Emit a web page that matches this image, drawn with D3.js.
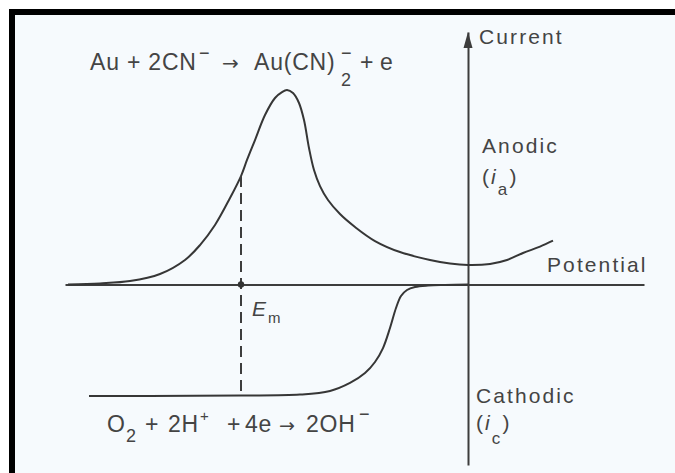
<!DOCTYPE html>
<html>
<head>
<meta charset="utf-8">
<script src="https://cdn.jsdelivr.net/npm/d3@7"></script>
<style>
	html, body { margin: 0; padding: 0; background: #fff; }
	svg text { font-family: "Liberation Sans", Arial, sans-serif; fill: #444; }
	.label { font-size: 21px; letter-spacing: 2.1px; }
	.eq { font-size: 23px; letter-spacing: 0.8px; }
	.arrow { font-family: "DejaVu Sans", sans-serif !important; }
	.axis .domain { stroke: #3d3d3d; stroke-width: 2; }
	.curve { fill: none; stroke: #363636; stroke-width: 2; }
</style>
</head>
<body>
<svg id="polarization"></svg>
<script>
const Width = 675;
const Height = 473;

// anodic branch: gold dissolution in cyanide (potential, current), arbitrary units
const anodicE = [-1.0, -0.92, -0.845, -0.77, -0.7075, -0.67, -0.6325, -0.595, -0.5675, -0.5525, -0.5325, -0.5075, -0.4825, -0.465, -0.4525, -0.4375, -0.4225, -0.41, -0.3975, -0.385, -0.37, -0.35, -0.32, -0.2825, -0.2325, -0.17, -0.095, -0.045, 0, 0.055, 0.0975, 0.1375, 0.18, 0.2125];
const anodicI = [0, 0.01, 0.031, 0.094, 0.22, 0.354, 0.534, 0.776, 0.973, 1.117, 1.296, 1.52, 1.673, 1.726, 1.744, 1.717, 1.628, 1.475, 1.224, 1.027, 0.883, 0.758, 0.632, 0.516, 0.39, 0.291, 0.22, 0.188, 0.175, 0.184, 0.22, 0.283, 0.34, 0.393];
// cathodic branch: oxygen reduction
const cathodicE = [-0.9475, -0.795, -0.5675, -0.42, -0.345, -0.295, -0.2575, -0.2325, -0.2125, -0.195, -0.18, -0.1675, -0.1525, -0.1325, -0.1, -0.0575, 0];
const cathodicI = [-1.0, -1.0, -0.996, -0.987, -0.955, -0.883, -0.794, -0.695, -0.57, -0.39, -0.211, -0.103, -0.049, -0.022, -0.009, -0.004, 0];
// mixed (corrosion) potential
const mixedE = -0.5675;
const potentialRange = [-1.0075, 0.44];
const currentRange = [-1.619, 2.265];

const svg = d3.select("#polarization").attr("width", Width).attr("height", Height);

// page frame: white margin, black bars on top and left, pale paper inside
svg.append("rect").attr("width", Width).attr("height", Height).attr("fill", "#fff");
svg.append("rect").attr("x", 9).attr("y", 9).attr("width", Width - 9).attr("height", Height - 9).attr("fill", "#000");
svg.append("rect").attr("x", 15).attr("y", 15).attr("width", Width - 15).attr("height", Height - 15).attr("fill", "#f6fafd");

const x = d3.scaleLinear().domain(potentialRange).range([65, 644]);
const y = d3.scaleLinear().domain(currentRange).range([465, 32]);

// axes without ticks, crossing at zero
svg.append("g").attr("class", "axis").attr("transform", `translate(0,${y(0)})`)
	.call(d3.axisBottom(x).tickValues([]).tickSizeOuter(0));
svg.append("g").attr("class", "axis").attr("transform", `translate(${x(0)},0)`)
	.call(d3.axisLeft(y).tickValues([]).tickSizeOuter(0));
// arrow head on the current axis
const tip = [x(0), y(currentRange[1])];
svg.append("path").attr("fill", "#3d3d3d")
	.attr("d", `M${tip[0]},${tip[1]}L${tip[0] + 4.5},${tip[1] + 16}L${tip[0] - 4.5},${tip[1] + 16}Z`);

const line = d3.line().x(d => x(d[0])).y(d => y(d[1])).curve(d3.curveCatmullRom.alpha(0.5));
svg.append("path").attr("class", "curve").attr("d", line(d3.zip(anodicE, anodicI)));
svg.append("path").attr("class", "curve").attr("d", line(d3.zip(cathodicE, cathodicI)));

// dashed drop line at the mixed potential
const iTop = anodicI[anodicE.indexOf(mixedE)];
const iBottom = cathodicI[cathodicE.indexOf(mixedE)];
svg.append("line").attr("x1", x(mixedE)).attr("x2", x(mixedE)).attr("y1", y(iTop)).attr("y2", y(iBottom))
	.attr("stroke", "#3d3d3d").attr("stroke-width", 2).attr("stroke-dasharray", "11,6");
svg.append("circle").attr("cx", x(mixedE)).attr("cy", y(0)).attr("r", 3.2).attr("fill", "#333");

// text with sub/superscripts; pieces flow on unless given their own x
function rich(x0, y0, cls, parts) {
	let cx = x0;
	parts.forEach(p => {
		if (p.x !== undefined) cx = p.x;
		const t = svg.append("text").attr("class", cls + (p.arrow ? " arrow" : "")).attr("x", cx).attr("y", y0 + (p.dy || 0)).text(p.t);
		if (p.size) t.style("font-size", p.size + "px");
		if (p.italic) t.style("font-style", "italic");
		const w = t.node().getComputedTextLength();
		if (!p.stack) cx += w;
	});
}

rich(90, 70, "eq", [
	{t: "Au + 2CN"},
	{t: "−", x: 199, dy: -11, size: 18},
	{t: "→", x: 222, size: 20, arrow: true},
	{t: "Au(CN)", x: 254},
	{t: "2", x: 341, dy: 16, size: 18, stack: true},
	{t: "−", x: 341, dy: -11, size: 18},
	{t: "+", x: 360},
	{t: "e", x: 380}
]);
rich(107, 432, "eq", [
	{t: "O"},
	{t: "2", x: 126, dy: 10, size: 18},
	{t: "+", x: 145},
	{t: "2H", x: 168},
	{t: "+", x: 200, dy: -11, size: 15},
	{t: "+", x: 227},
	{t: "4e", x: 245},
	{t: "→", x: 279, size: 19, arrow: true},
	{t: "2OH", x: 306},
	{t: "−", x: 359, dy: -12, size: 18}
]);

svg.append("text").attr("class", "label").attr("x", 479).attr("y", 44).text("Current");
svg.append("text").attr("class", "label").attr("x", 482).attr("y", 153).text("Anodic");
rich(482, 184, "label", [{t: "("}, {t: "i", italic: true}, {t: "a", dy: 11, size: 17}, {t: ")"}]);
svg.append("text").attr("class", "label").attr("x", 547).attr("y", 272).text("Potential");
svg.append("text").attr("class", "label").attr("x", 476).attr("y", 403).text("Cathodic");
rich(476, 430, "label", [{t: "("}, {t: "i", italic: true}, {t: "c", dy: 14, size: 17}, {t: ")"}]);
rich(252, 316, "label", [{t: "E", italic: true}, {t: "m", dy: 7, size: 15}]);
</script>
</body>
</html>
